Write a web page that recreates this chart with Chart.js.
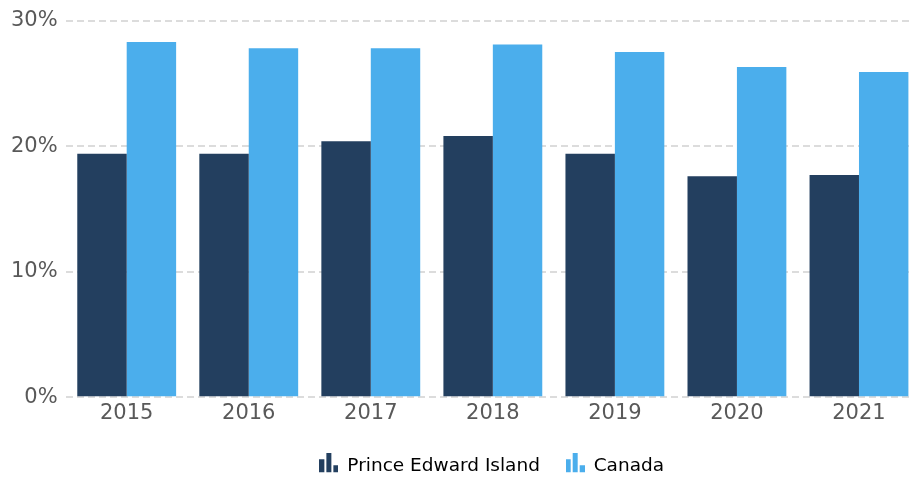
<!DOCTYPE html>
<html>
<head>
<meta charset="utf-8">
<script src="https://cdn.jsdelivr.net/npm/chart.js@4/dist/chart.umd.min.js"></script>
<style>
  body { margin: 0; background: #fff; overflow: hidden; }
  #wrap { width: 920px; height: 479px; position: relative; }
</style>
</head>
<body>
<div id="wrap"><canvas id="myChart"></canvas></div>
<script>
var years = ["2015", "2016", "2017", "2018", "2019", "2020", "2021"];
var pei = [19.4, 19.4, 20.4, 20.8, 19.4, 17.6, 17.7];
var canada = [28.3, 27.8, 27.8, 28.1, 27.5, 26.3, 25.9];
var yTicks = [0, 10, 20, 30];

var darkBlue = "#233f5f";
var lightBlue = "#4baeec";

// little bar-chart glyph used in the legend (extra empty rows at the bottom lift it a bit)
function legendIcon(color){
	var c = document.createElement("canvas");
	c.width = 19; c.height = 25;
	var g = c.getContext("2d");
	g.fillStyle = color;
	g.fillRect(0, 6, 5, 13);
	g.fillRect(7, 0, 5, 19);
	g.fillRect(14, 12, 5, 7);
	return c;
}
var icons = [legendIcon(darkBlue), legendIcon(lightBlue)];

// centre the legend under the plot area instead of the whole canvas
var legendCenter = {
	id: 'legendCenter',
	afterLayout: function(chart){
		chart.legend.left = chart.chartArea.left - 1;
		chart.legend.right = chart.chartArea.right - 1;
	}
};

Chart.defaults.font.family = "'DejaVu Sans', Verdana, sans-serif";
Chart.defaults.color = "#595959";

const ctx = document.getElementById('myChart').getContext('2d');
const myChart = new Chart(ctx, {
	type: 'bar',
	data: {
		labels: years,
		datasets: [{
			label: 'Prince Edward Island',
			data: pei,
			backgroundColor: darkBlue,
			categoryPercentage: 0.81,
			barPercentage: 1.0
		}, {
			label: 'Canada',
			data: canada,
			backgroundColor: lightBlue,
			categoryPercentage: 0.81,
			barPercentage: 1.0
		}]
	},
	plugins: [legendCenter],
	options: {
		responsive: true,
		maintainAspectRatio: false,
		animation: false,
		layout: { padding: { top: 8, right: 0, left: 3, bottom: -6 } },
		plugins: {
			tooltip: { enabled: false },
			legend: {
				position: 'bottom',
				labels: {
					usePointStyle: true,
					font: { size: 18.5 },
					padding: 26,
					generateLabels: function(chart){
						return chart.data.datasets.map(function(ds, i){
							return {
								text: ds.label,
								pointStyle: icons[i],
								fillStyle: ds.backgroundColor,
								strokeStyle: ds.backgroundColor,
								lineWidth: 0,
								hidden: false,
								datasetIndex: i
							};
						});
					}
				}
			}
		},
		scales: {
			x: {
				grid: { display: false, drawTicks: false },
				border: { display: false },
				ticks: { font: { size: 21 }, padding: 4 }
			},
			y: {
				min: 0,
				max: 30,
				afterBuildTicks: function(axis){
					axis.ticks = yTicks.map(function(v){ return { value: v }; });
				},
				grid: { color: "#dcdcdc", lineWidth: 2, drawTicks: false },
				border: { display: false, dash: [7, 4] },
				ticks: {
					font: { size: 21 },
					padding: 8,
					callback: function(v){ return v + "%"; }
				}
			}
		}
	}
});
</script>
</body>
</html>
